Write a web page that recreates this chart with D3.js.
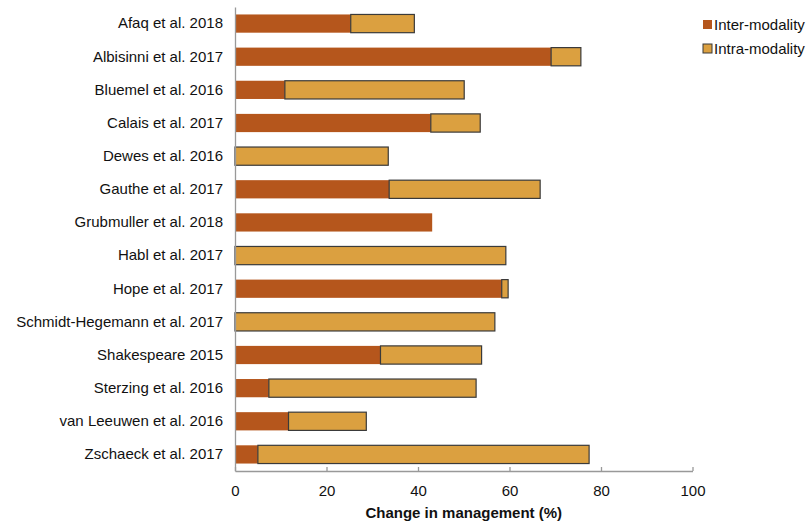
<!DOCTYPE html>
<html><head><meta charset="utf-8">
<script src="https://cdn.jsdelivr.net/npm/d3@7"></script>
<style>body{margin:0;background:#fff;} text{font-family:"Liberation Sans",Arial,sans-serif;}</style>
</head><body>
<svg id="c" width="808" height="524"></svg>
<script>
const studies = ["Afaq et al. 2018","Albisinni et al. 2017","Bluemel et al. 2016","Calais et al. 2017","Dewes et al. 2016","Gauthe et al. 2017","Grubmuller et al. 2018","Habl et al. 2017","Hope et al. 2017","Schmidt-Hegemann et al. 2017","Shakespeare 2015","Sterzing et al. 2016","van Leeuwen et al. 2016","Zschaeck et al. 2017"];
const interModality = [25.3, 69.1, 10.9, 42.8, 0, 33.7, 43.1, 0, 58.3, 0, 31.8, 7.4, 11.7, 5.0];
const intraModality = [13.9, 6.5, 39.2, 10.8, 33.5, 33.0, 0, 59.2, 1.4, 56.8, 22.1, 45.3, 17.0, 72.4];
const xTicks = [0, 20, 40, 60, 80, 100];
const seriesNames = ["Inter-modality", "Intra-modality"];
const colors = ["#B5561C", "#DBA040"];

const svg = d3.select("#c");
const x = d3.scaleLinear().domain([0, 100]).range([235, 692.5]);
const y = d3.scaleBand().domain(studies).range([7, 471]).paddingInner(0.45).paddingOuter(0.225);

// bars
const g = svg.append("g");
studies.forEach((s, i) => {
  const a = interModality[i], b = intraModality[i];
  if (a > 0) g.append("rect").attr("x", x(0)).attr("y", y(s)).attr("width", x(a) - x(0)).attr("height", y.bandwidth()).attr("fill", colors[0]);
  if (b > 0) g.append("rect").attr("x", x(a)).attr("y", y(s)).attr("width", x(a + b) - x(a)).attr("height", y.bandwidth()).attr("fill", colors[1]).attr("stroke", "#3a3a3a").attr("stroke-width", 1.2);
});

// y axis
const ya = svg.append("g").attr("transform", `translate(${x(0)},0)`).call(d3.axisLeft(y).tickSize(0).tickPadding(12));
ya.select(".domain").attr("stroke", "#999").attr("stroke-width", 1.3);
ya.selectAll("text").attr("font-size", 15).attr("fill", "#111").attr("font-family", "Liberation Sans, Arial, sans-serif");

// x axis
const xa = svg.append("g").attr("transform", `translate(0,471)`).call(d3.axisBottom(x).tickValues(xTicks).tickSize(-4).tickSizeOuter(0).tickPadding(14));
xa.select(".domain").attr("stroke", "#999").attr("stroke-width", 1.3);
xa.selectAll(".tick line").attr("stroke", "#999").attr("stroke-width", 1.3);
xa.selectAll("text").attr("font-size", 15).attr("fill", "#111").attr("font-family", "Liberation Sans, Arial, sans-serif");

svg.append("text").attr("x", (x(0) + x(100)) / 2).attr("y", 518).attr("text-anchor", "middle")
  .attr("font-size", 15).attr("font-weight", "bold").attr("fill", "#111").text("Change in management (%)");

// legend
seriesNames.forEach((n, i) => {
  const ly = 20 + i * 24;
  svg.append("rect").attr("x", 703).attr("y", ly).attr("width", 9).attr("height", 9).attr("fill", colors[i])
    .attr("stroke", i === 1 ? "#3a3a3a" : "none").attr("stroke-width", 1);
  svg.append("text").attr("x", 714).attr("y", ly + 10).attr("font-size", 15).attr("fill", "#111").text(n);
});
</script>
</body></html>
